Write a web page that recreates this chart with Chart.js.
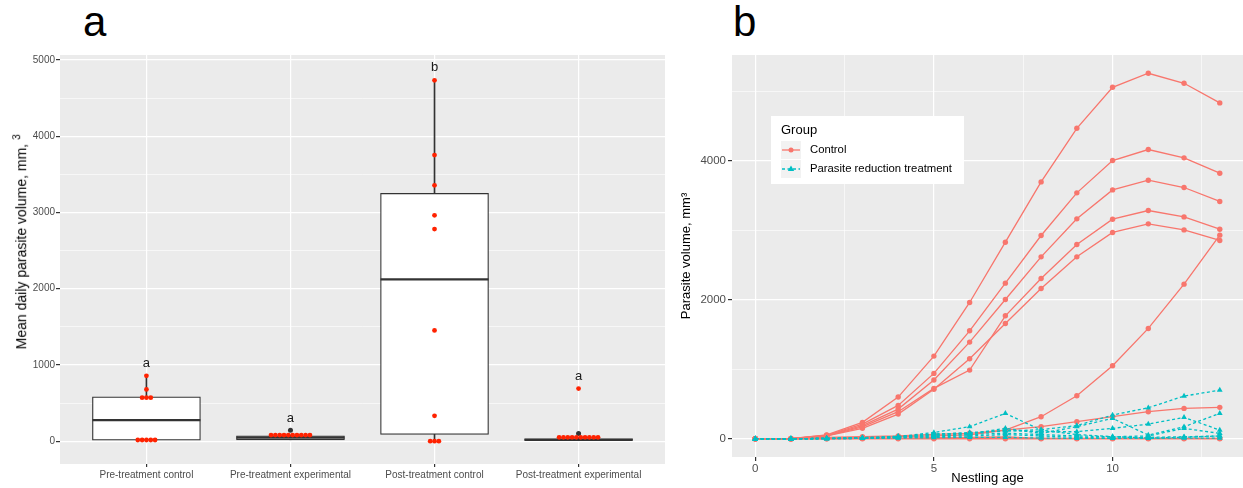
<!DOCTYPE html>
<html>
<head>
<meta charset="utf-8">
<script src="https://cdn.jsdelivr.net/npm/chart.js@4.4.1/dist/chart.umd.min.js"></script>
<style>
  html, body { margin:0; padding:0; background:#fff; }
  body { width:1243px; height:488px; position:relative; overflow:hidden; font-family:'Liberation Sans', Arial, sans-serif; }
  .panel { position:absolute; top:1px; font-size:42px; line-height:1; color:#000; }
  #ytitleA { position:absolute; width:320px; left:-141px; top:231px; text-align:center; font-size:14px; line-height:18px; color:#000; transform:rotate(-90deg); white-space:nowrap; }
  #ytitleA sup { font-size:10px; }
  canvas { position:absolute; top:0; }
</style>
</head>
<body>
<div class="panel" style="left:83px">a</div>
<div class="panel" style="left:733px">b</div>
<canvas id="ca" width="670" height="488" style="left:0"></canvas>
<canvas id="cb" width="573" height="488" style="left:670px"></canvas>
<div id="ytitleA">Mean daily parasite volume, mm, <sup>3</sup></div>
<script>
// ---------- Panel a data ----------
const categories = ['Pre-treatment control', 'Pre-treatment experimental', 'Post-treatment control', 'Post-treatment experimental'];
const boxQ1 = [13, 17, 88, 0];
const boxMedian = [276, 45, 2122, 15];
const boxQ3 = [581, 70, 3250, 35];
const whiskerLow = [13, 17, 0, 0];
const whiskerHigh = [857, 79, 4734, 50];
const pointsPreControl = [15, 15, 15, 15, 15, 570, 570, 570, 678, 857];
const pointsPreExperimental = [79, 79, 79, 79, 79, 79, 79, 79, 79, 79];
const pointsPostControl = [4734, 3753, 3356, 2962, 2782, 1452, 332, 0, 0, 0];
const pointsPostExperimental = [690, 50, 50, 50, 50, 50, 50, 50, 50, 50, 50];
const outlierCategory = [2, 4];
const outlierValue = [144, 100];
const sigLetters = ['a', 'a', 'b', 'a'];
const sigLetterY = [1024, 302, 4908, 853];
const yTicksA = [0, 1000, 2000, 3000, 4000, 5000];
const yMinorA = [500, 1500, 2500, 3500, 4500];

// ---------- Panel b data ----------
const ages = [0, 1, 2, 3, 4, 5, 6, 7, 8, 9, 10, 11, 12, 13];
const control1 = [0, 0, 55, 236, 600, 1190, 1962, 2830, 3698, 4470, 5060, 5262, 5118, 4835];
const control2 = [0, 0, 50, 210, 480, 941, 1554, 2240, 2926, 3540, 4005, 4164, 4044, 3823];
const control3 = [0, 0, 45, 190, 427, 845, 1391, 2005, 2619, 3166, 3583, 3722, 3617, 3416];
const control4 = [0, 0, 40, 170, 389, 725, 988, 1770, 2307, 2797, 3161, 3286, 3194, 3017];
const control5 = [0, 0, 40, 150, 355, 711, 1151, 1660, 2164, 2619, 2970, 3094, 3007, 2855];
const control6 = [0, 0, 10, 20, 30, 40, 55, 125, 317, 619, 1050, 1588, 2226, 2931];
const control7 = [0, 0, 20, 30, 40, 63, 78, 125, 173, 245, 317, 389, 437, 452];
const control8 = [0, 0, 0, 0, 0, 0, 0, 0, 0, 0, 0, 0, 0, 0];
const control9 = [0, 0, 0, 5, 10, 15, 20, 25, 5, 5, 5, 5, 5, 5];
const treatment1 = [0, 0, 5, 15, 35, 60, 90, 110, 130, 190, 341, 446, 614, 700];
const treatment2 = [0, 0, 5, 15, 30, 90, 173, 365, 125, 60, 30, 10, 20, 40];
const treatment3 = [0, 0, 5, 10, 25, 70, 80, 120, 100, 101, 149, 211, 308, 125];
const treatment4 = [0, 0, 5, 10, 25, 50, 70, 150, 77, 173, 293, 53, 173, 365];
const treatment5 = [0, 0, 5, 10, 20, 40, 60, 80, 60, 40, 29, 40, 149, 77];
const treatment6 = [0, 0, 0, 5, 15, 30, 40, 60, 40, 20, 10, 20, 29, 40];
const treatment7 = [0, 0, 0, 5, 10, 15, 20, 20, 10, 5, 5, 5, 10, 10];
const yTicksB = [0, 2000, 4000];
const yMinorB = [1000, 3000, 5000];
const xTicksB = [0, 5, 10];
const xMinorB = [2.5, 7.5, 12.5];
const legendTitle = 'Group';
const legendLabels = ['Control', 'Parasite reduction treatment'];

const controlSeries = [control1, control2, control3, control4, control5, control6, control7, control8, control9];
const treatmentSeries = [treatment1, treatment2, treatment3, treatment4, treatment5, treatment6, treatment7];

const RED = '#F8766D', CYAN = '#00BFC4', DOT = '#FF2200', DARK = '#333333';
const FONT = "'Liberation Sans', Arial, sans-serif";
Chart.defaults.font.family = FONT;
Chart.defaults.animation = false;

function noPad(s) { s.paddingLeft = 0; s.paddingRight = 0; s.paddingTop = 0; s.paddingBottom = 0; }

const bgPlugin = {
  id: 'panelBg',
  beforeDraw(chart) {
    const { ctx, chartArea: a } = chart;
    ctx.save();
    ctx.fillStyle = '#EBEBEB';
    ctx.fillRect(a.left, a.top, a.right - a.left, a.bottom - a.top);
    ctx.restore();
  }
};

// beeswarm-like horizontal spread for identical values
function swarm(vals, cat) {
  const counts = {}, seen = {};
  vals.forEach(v => counts[v] = (counts[v] || 0) + 1);
  return vals.map(v => {
    const n = counts[v], k = (seen[v] = (seen[v] || 0) + 1) - 1;
    return { x: cat + (k - (n - 1) / 2) * 0.03, y: v };
  });
}
const allPoints = [pointsPreControl, pointsPreExperimental, pointsPostControl, pointsPostExperimental]
  .flatMap((arr, i) => swarm(arr, i + 1));

const lettersPlugin = {
  id: 'sigLetters',
  afterDatasetsDraw(chart) {
    const { ctx, scales: { x, y } } = chart;
    ctx.save();
    ctx.font = '13px ' + FONT;
    ctx.fillStyle = '#1a1a1a';
    ctx.textAlign = 'center';
    ctx.textBaseline = 'middle';
    sigLetters.forEach((l, i) => ctx.fillText(l, x.getPixelForValue(i + 1), y.getPixelForValue(sigLetterY[i])));
    ctx.restore();
  }
};

new Chart(document.getElementById('ca'), {
  type: 'bar',
  data: {
    datasets: [
      { type: 'scatter', data: allPoints, pointRadius: 2.4, pointBackgroundColor: DOT, pointBorderWidth: 0, order: 1 },
      { type: 'scatter', data: outlierCategory.map((c, i) => ({ x: c, y: outlierValue[i] })), pointRadius: 2.5, pointBackgroundColor: DARK, pointBorderWidth: 0, order: 2 },
      { type: 'scatter', data: categories.map((c, i) => ({ x: i + 1, y: boxMedian[i] })), pointStyle: 'line', pointRadius: 54, pointBorderColor: DARK, pointBorderWidth: 2.2, order: 3 },
      { type: 'bar', data: categories.map((c, i) => ({ x: i + 1, y: [boxQ1[i], boxQ3[i]] })), barThickness: 108, backgroundColor: '#ffffff', borderColor: DARK, borderWidth: 1.2, borderSkipped: false, grouped: false, order: 4 },
      { type: 'bar', data: categories.map((c, i) => ({ x: i + 1, y: [whiskerLow[i], whiskerHigh[i]] })), barThickness: 1, backgroundColor: DARK, borderWidth: 0, grouped: false, order: 5 }
    ]
  },
  options: {
    responsive: false, devicePixelRatio: 1, events: [],
    layout: { autoPadding: false, padding: { top: 55, right: 5, left: 0, bottom: 0 } },
    plugins: { legend: { display: false }, tooltip: { enabled: false } },
    scales: {
      x: {
        type: 'linear', min: 0.4, max: 4.6, offset: false,
        afterBuildTicks: s => { s.ticks = categories.map((c, i) => ({ value: i + 1 })); },
        afterFit: s => { s.height = 24; noPad(s); },
        ticks: { callback: v => categories[Math.round(v) - 1] || '', color: '#4D4D4D', font: { size: 10 }, padding: 2, maxRotation: 0, autoSkip: false },
        grid: { color: '#ffffff', lineWidth: 1.2, tickColor: DARK, tickLength: 3, offset: false },
        border: { display: false }
      },
      y: {
        min: -300, max: 5066,
        afterBuildTicks: s => { s.ticks = yTicksA.concat(yMinorA).sort((a, b) => a - b).map(v => ({ value: v })); },
        afterFit: s => { s.width = 60; noPad(s); },
        ticks: { callback: v => yTicksA.includes(v) ? String(v) : '', color: '#4D4D4D', font: { size: 10 }, padding: 1, autoSkip: false },
        grid: {
          color: '#ffffff',
          lineWidth: c => yTicksA.includes(c.tick.value) ? 1.2 : 0.6,
          tickColor: c => yTicksA.includes(c.tick.value) ? DARK : 'rgba(0,0,0,0)',
          tickLength: 4
        },
        border: { display: false }
      }
    }
  },
  plugins: [bgPlugin, lettersPlugin]
});

// ---------- Panel b ----------
const legendPlugin = {
  id: 'groupLegend',
  afterDraw(chart) {
    const ctx = chart.ctx;
    ctx.save();
    ctx.fillStyle = '#ffffff';
    ctx.fillRect(101, 116, 193, 68);
    ctx.fillStyle = '#000';
    ctx.textBaseline = 'middle';
    ctx.textAlign = 'left';
    ctx.font = '13px ' + FONT;
    ctx.fillText(legendTitle, 111, 130);
    const rows = [150, 169];
    rows.forEach((yy, i) => {
      ctx.fillStyle = '#F2F2F2';
      ctx.fillRect(111, yy - 9, 20, 18);
      ctx.strokeStyle = i === 0 ? RED : CYAN;
      ctx.lineWidth = 1.3;
      ctx.setLineDash(i === 0 ? [] : [3, 2.5]);
      ctx.beginPath(); ctx.moveTo(112, yy); ctx.lineTo(130, yy); ctx.stroke();
      ctx.setLineDash([]);
      ctx.fillStyle = i === 0 ? RED : CYAN;
      ctx.beginPath();
      if (i === 0) { ctx.arc(121, yy, 2.5, 0, Math.PI * 2); }
      else { ctx.moveTo(121, yy - 3.5); ctx.lineTo(124.2, yy + 2); ctx.lineTo(117.8, yy + 2); ctx.closePath(); }
      ctx.fill();
      ctx.fillStyle = '#000';
      ctx.font = '11.3px ' + FONT;
      ctx.fillText(legendLabels[i], 140, yy);
    });
    ctx.restore();
  }
};

const lineDatasets = [];
treatmentSeries.forEach(s => lineDatasets.push({
  data: ages.map((a, i) => ({ x: a, y: s[i] })),
  borderColor: CYAN, backgroundColor: CYAN, borderWidth: 1.3, borderDash: [3, 2.5],
  pointStyle: 'triangle', pointRadius: 3.3, pointBackgroundColor: CYAN, pointBorderWidth: 0, tension: 0
}));
controlSeries.forEach(s => lineDatasets.push({
  data: ages.map((a, i) => ({ x: a, y: s[i] })),
  borderColor: RED, backgroundColor: RED, borderWidth: 1.3,
  pointStyle: 'circle', pointRadius: 2.7, pointBackgroundColor: RED, pointBorderWidth: 0, tension: 0
}));

new Chart(document.getElementById('cb'), {
  type: 'line',
  data: { datasets: lineDatasets },
  options: {
    responsive: false, devicePixelRatio: 1, events: [],
    layout: { autoPadding: false, padding: { top: 55, right: 0, left: 0, bottom: 0 } },
    plugins: { legend: { display: false }, tooltip: { enabled: false } },
    scales: {
      x: {
        type: 'linear', min: -0.65, max: 13.65,
        afterBuildTicks: s => { s.ticks = xTicksB.concat(xMinorB).sort((a, b) => a - b).map(v => ({ value: v })); },
        afterFit: s => { s.height = 31; noPad(s); },
        ticks: { callback: v => xTicksB.includes(v) ? String(v) : '', color: '#4D4D4D', font: { size: 11.5 }, padding: 1, maxRotation: 0, autoSkip: false },
        grid: {
          color: '#ffffff',
          lineWidth: c => xTicksB.includes(c.tick.value) ? 1.2 : 0.6,
          tickColor: c => xTicksB.includes(c.tick.value) ? DARK : 'rgba(0,0,0,0)',
          tickLength: 4
        },
        border: { display: false },
        title: { display: true, text: 'Nestling age', color: '#000', font: { size: 13 }, padding: { top: 0, bottom: 2 } }
      },
      y: {
        min: -263, max: 5525,
        afterBuildTicks: s => { s.ticks = yTicksB.concat(yMinorB).sort((a, b) => a - b).map(v => ({ value: v })); },
        afterFit: s => { s.width = 62; noPad(s); },
        ticks: { callback: v => yTicksB.includes(v) ? String(v) : '', color: '#4D4D4D', font: { size: 11.5 }, padding: 2, autoSkip: false },
        grid: {
          color: '#ffffff',
          lineWidth: c => yTicksB.includes(c.tick.value) ? 1.2 : 0.6,
          tickColor: c => yTicksB.includes(c.tick.value) ? DARK : 'rgba(0,0,0,0)',
          tickLength: 4
        },
        border: { display: false },
        title: { display: true, text: 'Parasite volume, mm³', color: '#000', font: { size: 13 }, padding: { top: 9, bottom: 0 } }
      }
    }
  },
  plugins: [bgPlugin, legendPlugin]
});
</script>
</body>
</html>
